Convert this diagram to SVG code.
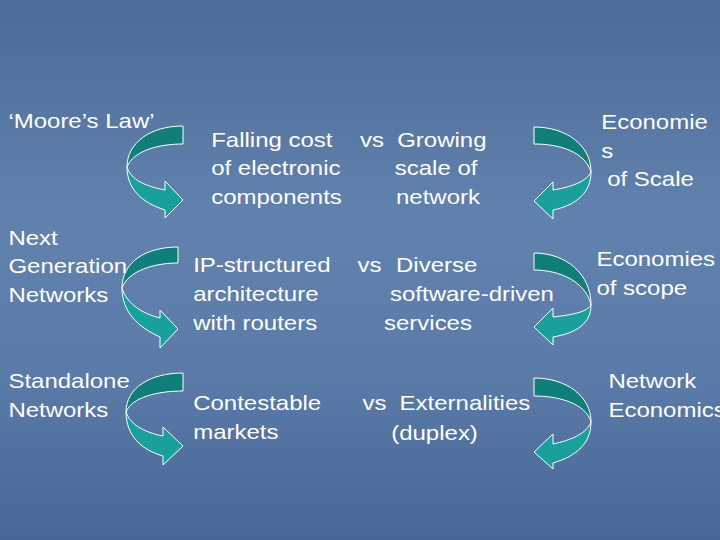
<svg xmlns="http://www.w3.org/2000/svg" width="720" height="540" viewBox="0 0 720 540">
<defs>
<linearGradient id="bg" x1="0" y1="0" x2="0" y2="1">
<stop offset="0" stop-color="#4c6b98"/>
<stop offset="0.4" stop-color="#6282ae"/>
<stop offset="0.7" stop-color="#5a7aa8"/>
<stop offset="1" stop-color="#476796"/>
</linearGradient>
<style>
.t{font-family:"Liberation Sans",Arial,sans-serif;font-size:20px;fill:#ffffff}
.dk{fill:#107f7a;stroke:#ffffff;stroke-width:1}
.lt{fill:#19a09c;stroke:#ffffff;stroke-width:1}
</style>
</defs>
<rect width="720" height="540" fill="url(#bg)"/>
<g id="connectors">
<g id="arrow-l1"><path class="dk" d="M183,126 L183,144 C158,144 133,151 127,167 C127,143 150,126 183,126 Z"/><path class="lt" d="M127,167 C127,190 143,203 165,210 L165,218 L183,200 L165,181 L165,190 C145,186 131,180 127,167 Z"/></g>
<g id="arrow-l2"><path class="dk" d="M178,247 L178,263 C154,263 128,271 122,288 C122,262 146,247 178,247 Z"/><path class="lt" d="M122,288 C122,312 138,327 160,337 L160,348 L178,329 L160,310 L160,318 C140,313 126,302 122,288 Z"/></g>
<g id="arrow-l3"><path class="dk" d="M183,373 L183,391 C158,391 132,397 126,412 C126,388 150,373 183,373 Z"/><path class="lt" d="M126,412 C126,436 142,450 163,456 L163,465 L183,446 L163,427 L163,436 C143,432 130,424 126,412 Z"/></g>
<g id="arrow-r1"><path class="dk" d="M534,127 L534,144 C560,144 585,152 591,172 C591,145 566,127 534,127 Z"/><path class="lt" d="M591,172 C591,192 577,205 553,210 L553,219 L534,201 L553,182 L553,190 C572,187 587,181 591,172 Z"/></g>
<g id="arrow-r2"><path class="dk" d="M534,253 L534,270 C560,270 586,282 591,305 C591,274 566,253 534,253 Z"/><path class="lt" d="M591,305 C591,323 577,333 553,337 L553,345 L534,327 L553,308 L553,317 C572,315 587,312 591,305 Z"/></g>
<g id="arrow-r3"><path class="dk" d="M534,378 L534,396 C560,396 586,404 591,422 C591,396 566,378 534,378 Z"/><path class="lt" d="M591,422 C591,443 577,456 553,463 L553,469 L534,452 L553,434 L553,444 C572,440 587,433 591,422 Z"/></g>
</g>
<g transform="scale(1.2 1)">
<g id="moores-law"><text class="t" x="7" y="128">‘Moore’s Law’</text></g>
<g id="falling-cost"><text class="t" x="176" y="147">Falling cost</text><text class="t" x="176" y="175">of electronic</text><text class="t" x="176" y="204">components</text></g>
<g id="growing-scale"><text class="t" x="300" y="147">vs</text><text class="t" x="331" y="147">Growing</text><text class="t" x="329" y="175">scale of</text><text class="t" x="330" y="204">network</text></g>
<g id="economies-scale"><text class="t" x="501" y="129">Economie</text><text class="t" x="501" y="158">s</text><text class="t" x="506" y="186">of Scale</text></g>
<g id="ngn"><text class="t" x="7" y="245">Next</text><text class="t" x="7" y="273">Generation</text><text class="t" x="7" y="302">Networks</text></g>
<g id="ip-structured"><text class="t" x="161" y="272">IP-structured</text><text class="t" x="161" y="301">architecture</text><text class="t" x="161" y="330">with routers</text></g>
<g id="diverse"><text class="t" x="298" y="272">vs</text><text class="t" x="330" y="272">Diverse</text><text class="t" x="325" y="301">software-driven</text><text class="t" x="320" y="330">services</text></g>
<g id="economies-scope"><text class="t" x="497" y="266">Economies</text><text class="t" x="497" y="295">of scope</text></g>
<g id="standalone"><text class="t" x="7" y="388">Standalone</text><text class="t" x="7" y="417">Networks</text></g>
<g id="contestable"><text class="t" x="161" y="410">Contestable</text><text class="t" x="161" y="439">markets</text></g>
<g id="externalities"><text class="t" x="302" y="410">vs</text><text class="t" x="333" y="410">Externalities</text><text class="t" x="326" y="440">(duplex)</text></g>
<g id="network-economics"><text class="t" x="507" y="388">Network</text><text class="t" x="507" y="417">Economics</text></g>
</g>
</svg>
